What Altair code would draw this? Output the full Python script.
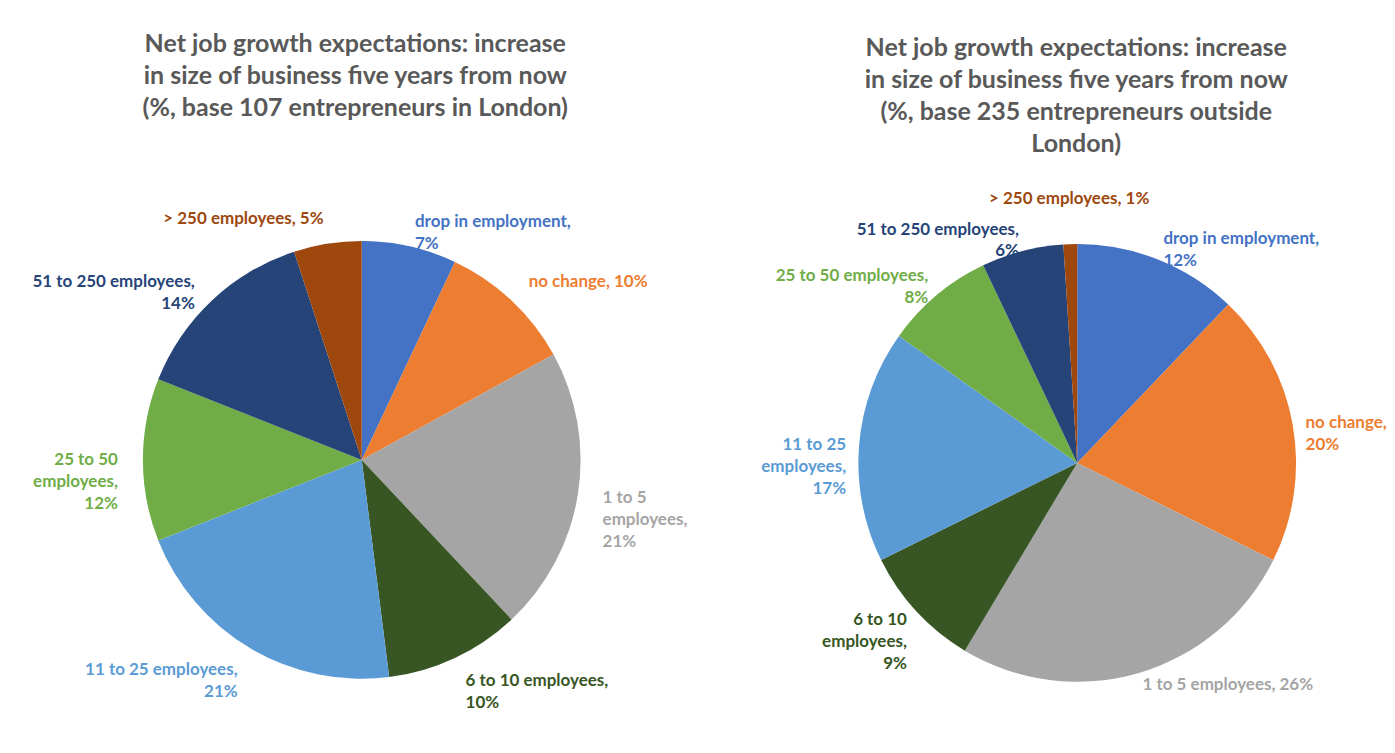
import altair as alt
import pandas as pd

categories = ["drop in employment", "no change", "1 to 5 employees", "6 to 10 employees",
              "11 to 25 employees", "25 to 50 employees", "51 to 250 employees", "> 250 employees"]
london_values = [7, 10, 21, 10, 21, 12, 14, 5]
outside_values = [12, 20, 26, 9, 17, 8, 6, 1]
london_labels = ["drop in employment,\n7%", "no change, 10%", "1 to 5\nemployees,\n21%",
                 "6 to 10 employees,\n10%", "11 to  25 employees,\n21%", "25 to  50\nemployees,\n12%",
                 "51 to  250 employees,\n14%", "> 250 employees,  5%"]
outside_labels = ["drop in employment,\n12%", "no change,\n20%", "1 to 5 employees, 26%",
                  "6 to 10\nemployees,\n9%", "11 to  25\nemployees,\n17%", "25 to  50 employees,\n8%",
                  "51 to  250 employees,\n6%", "> 250 employees, 1%"]
london_title = ["Net job growth expectations:  increase", "in size of business five years from now",
                "(%, base 107 entrepreneurs in London)"]
outside_title = ["Net job growth expectations:  increase", "in size of business five years from now",
                 "(%, base 235 entrepreneurs outside", "London)"]

slice_colors = ["#4472C4", "#ED7D31", "#A5A5A5", "#375623", "#5B9BD5", "#70AD47", "#264478", "#9E480E"]
label_colors = ["#4472C4", "#ED7D31", "#A5A5A5", "#375623", "#5B9BD5", "#70AD47", "#264478", "#9E480E"]

FONT = "Lato"
PIE_R = 219
TOP_ZONE = 5 / 360


def pie(values, labels, title_lines, cx, cy, title_offset, title_dx, width,
        label_r, top_r, upper_zone):
    df = pd.DataFrame({"category": categories, "order": list(range(len(categories))),
                       "value": values, "label": labels})
    theta_scale = alt.Scale(domain=[0, sum(values)])
    base = alt.Chart(df).transform_window(
        cum="sum(value)", sort=[alt.SortField("order")], frame=[None, 0]
    ).transform_joinaggregate(
        total="sum(value)"
    ).transform_calculate(
        start="datum.cum - datum.value",
        mid="datum.cum - datum.value / 2",
        frac="(datum.cum - datum.value / 2) / datum.total",
    ).encode(x=alt.value(cx), y=alt.value(cy))

    color_arc = alt.Color("category:N", scale=alt.Scale(domain=categories, range=slice_colors), legend=None)
    color_txt = alt.Color("category:N", scale=alt.Scale(domain=categories, range=label_colors), legend=None)
    enc = dict(text="label:N", color=color_txt)

    arcs = base.mark_arc(radius=PIE_R).encode(
        theta=alt.Theta("start:Q", scale=theta_scale), theta2="cum:Q", color=color_arc
    )
    txt = dict(font=FONT, fontSize=17, fontWeight="bold", lineBreak="\n", lineHeight=22)
    th = alt.Theta("mid:Q", scale=theta_scale)
    f = alt.datum.frac
    layers = [arcs]
    # right half, upper part (text sits above its anchor)
    layers.append(base.transform_filter((f >= TOP_ZONE) & (f < upper_zone)).mark_text(
        radius=label_r, align="left", baseline="bottom", **txt).encode(theta=th, **enc))
    # right half
    layers.append(base.transform_filter((f >= upper_zone) & (f >= TOP_ZONE) & (f < 0.5)).mark_text(
        radius=label_r, align="left", baseline="middle", **txt).encode(theta=th, **enc))
    # left half
    layers.append(base.transform_filter((f >= 0.5) & (f <= 1 - upper_zone) & (f <= 1 - TOP_ZONE)).mark_text(
        radius=label_r, align="right", baseline="middle", **txt).encode(theta=th, **enc))
    # left half, upper part
    layers.append(base.transform_filter((f > 1 - upper_zone) & (f <= 1 - TOP_ZONE)).mark_text(
        radius=label_r, align="right", baseline="bottom", **txt).encode(theta=th, **enc))
    # tiny slices at the very top
    layers.append(base.transform_filter((f < TOP_ZONE) | (f > 1 - TOP_ZONE)).mark_text(
        radius=top_r, align="center", baseline="bottom", **txt).encode(theta=th, **enc))

    return alt.layer(*layers).resolve_scale(color="independent").properties(
        width=width, height=540,
        title=alt.TitleParams(text=title_lines, font=FONT, fontSize=25, fontWeight="bold",
                              color="#595959", anchor="middle", lineHeight=32,
                              offset=title_offset, dx=title_dx),
    )


left = pie(london_values, london_labels, london_title, 354, 299, 40, 5, 685,
           PIE_R + 25, PIE_R + 26, 0.0)
right = pie(outside_values, outside_labels, outside_title, 385, 302, 4, 64, 640,
            PIE_R + 13, PIE_R + 36, 0.125)

chart = alt.hconcat(left, right, spacing=0, bounds="flush").properties(
    padding={"top": 24, "left": 0, "right": 0, "bottom": 0}
).configure_view(stroke=None).resolve_scale(color="independent")

chart.save("out.html", embed_options={"renderer": "svg", "actions": False})
